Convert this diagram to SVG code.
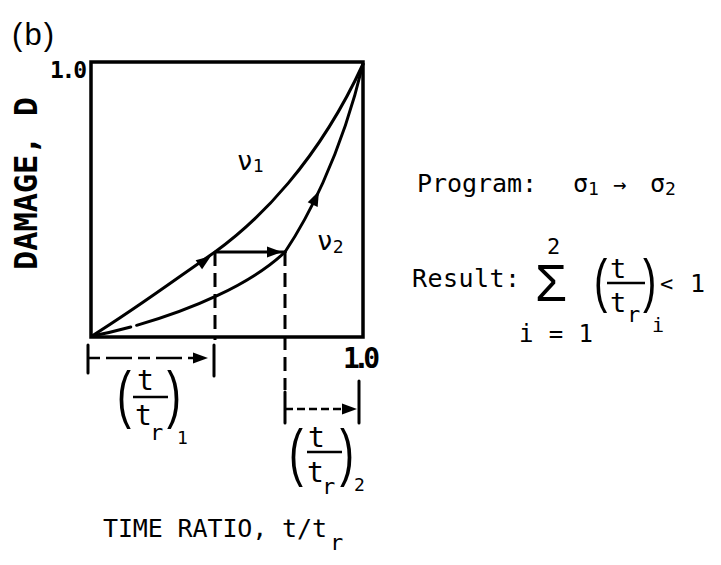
<svg xmlns="http://www.w3.org/2000/svg" width="721" height="565" viewBox="0 0 721 565">
<style>
text{font-family:"DejaVu Sans Mono","Liberation Mono",monospace;fill:#000}
.par{font-family:"Liberation Sans",Arial,sans-serif}
.b{font-weight:bold}
.ln{fill:none;stroke:#000;stroke-width:3;stroke-linecap:round;stroke-linejoin:round}
.dash{fill:none;stroke:#000;stroke-width:3;stroke-dasharray:14 7}
.dim1{fill:none;stroke:#000;stroke-width:2.5;stroke-dasharray:12 6 26 6}
.dim2{fill:none;stroke:#000;stroke-width:2.5;stroke-dasharray:8 4}
.bar{stroke:#000;stroke-width:2.5}
</style>
<defs>
<path id="ah" d="M0,0 L-15,-5.5 L-15,5.5 Z" fill="#000"/>
</defs>
<rect width="721" height="565" fill="#fff"/>

<g id="label-b"><text class="par" x="12" y="45" font-size="31" textLength="42">(b)</text></g>
<g id="y-axis-label"><text class="b" transform="translate(37,270) rotate(-90)" font-size="32" textLength="173">DAMAGE, D</text></g>
<g id="y-max"><text class="b" x="50" y="78" font-size="23" textLength="37">1.0</text></g>
<g id="x-max"><text class="b" x="343" y="368" font-size="28" textLength="37">1.0</text></g>

<g id="plot-frame"><rect x="91" y="62" width="272" height="275" fill="none" stroke="#000" stroke-width="3.5"/></g>

<g id="connectors">
<path id="v1-curve" class="ln" d="M92,336 C140,306 180,276 215,252 C258,221 318,162 363,64"/>
<path id="v2-lower" class="ln" d="M92,336 C150,325 240,295 285,252" stroke-dasharray="40 6 1000"/>
<path id="v2-upper" class="ln" d="M285,252 C305,222 340,160 363,64"/>
<path id="step" class="ln" d="M215,252 H285"/>
<path class="dash" d="M215,252 V340"/>
<path class="ln" d="M214,345 V376"/>
<path class="dash" d="M285,252 V390"/>
<path class="ln" d="M285,392 V423"/>
<path class="ln" d="M88,345 V373"/>
<path class="dim1" d="M88,358 H200"/>
<path class="dim2" d="M285,409 H350"/>
<path class="ln" d="M359,381 V423"/>
<use href="#ah" transform="translate(211,256) rotate(-36)"/>
<use href="#ah" transform="translate(282,252)"/>
<use href="#ah" transform="translate(319,191) rotate(-65)"/>
<use href="#ah" transform="translate(208,358)"/>
<use href="#ah" transform="translate(357,409)"/>
</g>

<g id="label-v1"><text x="237" y="170" font-size="26">ν<tspan font-size="18" dy="2">1</tspan></text></g>
<g id="label-v2"><text x="317" y="250" font-size="26">ν<tspan font-size="18" dy="3">2</tspan></text></g>

<g id="program">
<text x="417" y="192" font-size="25" textLength="120">Program:</text>
<text x="573" y="192" font-size="25">σ<tspan font-size="18" dy="3">1</tspan></text>
<text x="613" y="192" font-size="22">→</text>
<text x="650" y="192" font-size="25">σ<tspan font-size="18" dy="3">2</tspan></text>
</g>

<g id="result">
<text x="412" y="287" font-size="25" textLength="108">Result:</text>
<text class="par" x="535" y="301" font-size="52">Σ</text>
<text x="547" y="254" font-size="22">2</text>
<text x="519" y="342" font-size="24" textLength="74">i = 1</text>
<text class="par" transform="translate(594,301) scale(1,1.5)" font-size="40">(</text>
<text x="610" y="278" font-size="27">t</text>
<line class="bar" x1="607" y1="283" x2="645" y2="283"/>
<text x="610" y="312" font-size="27">t</text>
<text x="627" y="322" font-size="22">r</text>
<text class="par" transform="translate(643,301) scale(1,1.5)" font-size="40">)</text>
<text x="652" y="332" font-size="20">i</text>
<text x="660" y="291" font-size="22">&lt;</text>
<text x="690" y="292" font-size="25">1</text>
</g>

<g id="frac-1">
<text class="par" transform="translate(117,416) scale(1,1.5)" font-size="42">(</text>
<text x="137" y="390" font-size="28">t</text>
<line class="bar" x1="133" y1="397" x2="168" y2="397"/>
<text x="135" y="425" font-size="28">t</text>
<text x="150" y="440" font-size="22">r</text>
<text class="par" transform="translate(167,416) scale(1,1.5)" font-size="42">)</text>
<text x="177" y="444" font-size="18">1</text>
</g>

<g id="frac-2">
<text class="par" transform="translate(289,474) scale(1,1.5)" font-size="42">(</text>
<text x="308" y="447" font-size="28">t</text>
<line class="bar" x1="307" y1="452" x2="342" y2="452"/>
<text x="307" y="482" font-size="28">t</text>
<text x="322" y="494" font-size="22">r</text>
<text class="par" transform="translate(340,474) scale(1,1.5)" font-size="42">)</text>
<text x="354" y="491" font-size="18">2</text>
</g>

<g id="x-axis-label">
<text x="103" y="537" font-size="25" textLength="224">TIME RATIO, t/t</text>
<text x="330" y="550" font-size="22">r</text>
</g>
</svg>
